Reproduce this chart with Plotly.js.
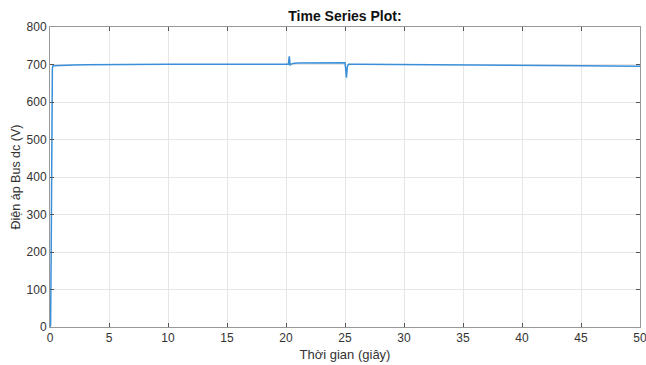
<!DOCTYPE html>
<html><head><meta charset="utf-8">
<script src="https://cdn.plot.ly/plotly-3.0.1.min.js"></script>
<style>html,body{margin:0;padding:0;background:#fff}</style>
</head><body>
<div id="chart" style="width:646px;height:365px"></div>
<script>
const timeSec = [0, 0.05, 0.1, 0.15, 0.2, 0.25, 0.3, 1, 2, 3, 5, 10, 15, 20, 20.2, 20.28, 20.35, 20.45, 20.6, 21, 23, 25, 25.05, 25.12, 25.2, 25.3, 26, 30, 35, 40, 45, 50];
const voltage = [0, 5, 200, 500, 690, 697, 697, 697.5, 698.5, 699.5, 700, 700.5, 700.5, 701, 701, 722, 699, 701, 703, 704, 704.5, 704.5, 690, 665, 695, 701, 701, 700.5, 699, 698, 697, 695.5];
const xTicks = [0, 5, 10, 15, 20, 25, 30, 35, 40, 45, 50];
const yTicks = [0, 100, 200, 300, 400, 500, 600, 700, 800];

const axisCommon = {
  showline: true, linecolor: '#999', linewidth: 1, mirror: 'ticks',
  ticks: 'inside', ticklen: 4, tickcolor: '#555',
  showgrid: true, gridcolor: '#e6e6e6', zeroline: false,
  ticklabeloverflow: 'allow',
  tickfont: {family: 'Liberation Sans, Arial, sans-serif', size: 12, color: '#333'}
};

Plotly.newPlot('chart', [{
  x: timeSec, y: voltage, type: 'scatter', mode: 'lines',
  line: {color: '#3a8fd8', width: 1.5}, hoverinfo: 'skip'
}], {
  width: 646, height: 365,
  margin: {l: 50, r: 6, t: 27, b: 38},
  paper_bgcolor: '#fff', plot_bgcolor: '#fff',
  showlegend: false,
  title: {text: 'Time Series Plot:', x: 0.534, xanchor: 'center', y: 0.955, yanchor: 'middle',
    font: {family: 'Liberation Sans, Arial, sans-serif', size: 14, color: '#111', weight: 'bold'}},
  xaxis: Object.assign({}, axisCommon, {range: [0, 50], tickvals: xTicks,
    title: {text: 'Thời gian (giây)', standoff: 5, font: {family: 'Liberation Sans, Arial, sans-serif', size: 13, color: '#333'}}}),
  yaxis: Object.assign({}, axisCommon, {range: [0, 800], tickvals: yTicks,
    title: {text: 'Điện áp Bus dc (V)', standoff: 3, font: {family: 'Liberation Sans, Arial, sans-serif', size: 12.5, color: '#333'}}})
}, {displayModeBar: false, staticPlot: true});
</script>
</body></html>
